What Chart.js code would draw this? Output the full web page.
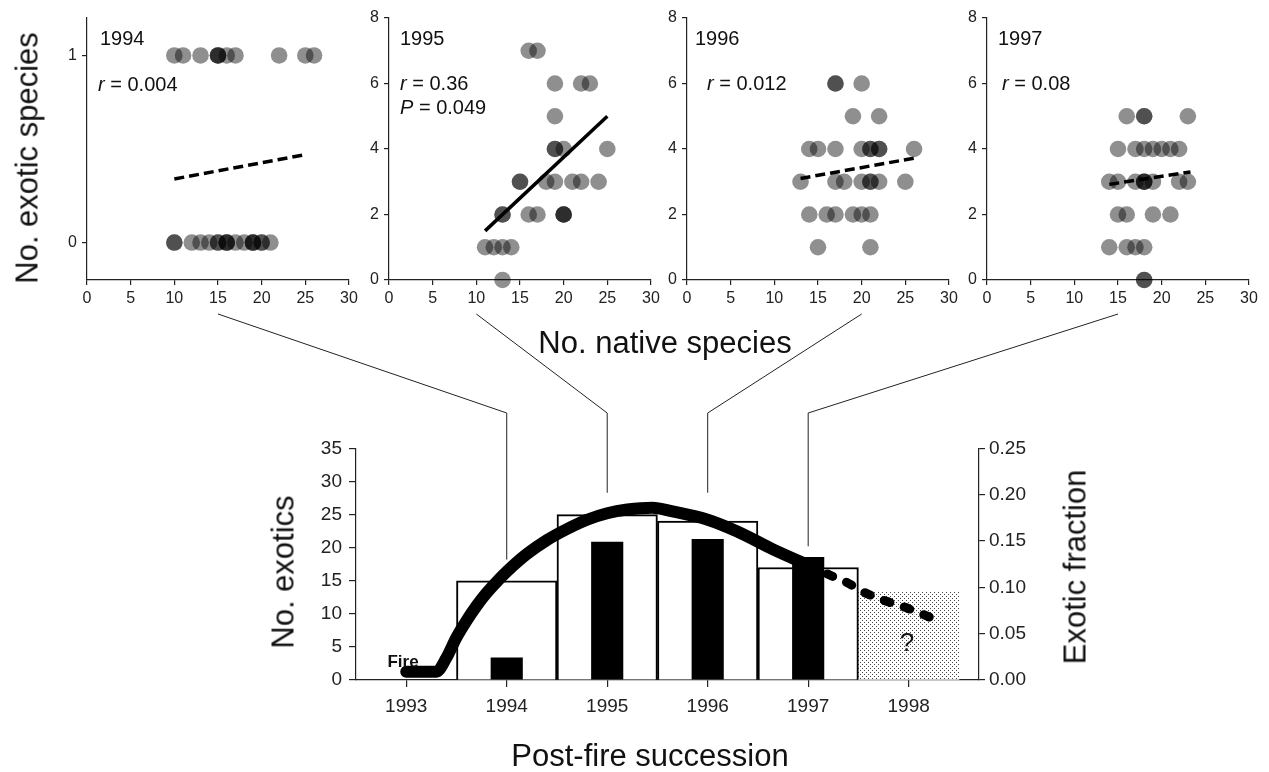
<!DOCTYPE html>
<html>
<head>
<meta charset="utf-8">
<script src="https://cdn.jsdelivr.net/npm/chart.js@4.4.1/dist/chart.umd.min.js"></script>
<style>
body { margin: 0; background: #fff; width: 1269px; height: 772px; position: relative; overflow: hidden; font-family: "Liberation Sans", Arial, sans-serif; }
canvas { position: absolute; }
.t { position: absolute; white-space: nowrap; color: #111; line-height: 1; }
.title { font-size: 31px; }
.note { font-size: 20px; }
.rot { transform: translate(-50%, -50%) rotate(-90deg); }
.ctr { transform: translate(-50%, -50%); }
</style>
</head>
<body>
<canvas id="p1994" width="321" height="310" style="left:42px;top:0px"></canvas>
<canvas id="p1995" width="321" height="310" style="left:344px;top:0px"></canvas>
<canvas id="p1996" width="321" height="310" style="left:642px;top:0px"></canvas>
<canvas id="p1997" width="321" height="310" style="left:942px;top:0px"></canvas>
<canvas id="succession" width="740" height="300" style="left:300px;top:430px"></canvas>
<canvas id="links" width="1269" height="772" style="left:0;top:0;pointer-events:none"></canvas>

<div class="t note" style="left:100px;top:28px">1994</div>
<div class="t note" style="left:98px;top:74px"><i>r</i> = 0.004</div>
<div class="t note" style="left:400px;top:28px">1995</div>
<div class="t note" style="left:400px;top:73px"><i>r</i> = 0.36</div>
<div class="t note" style="left:400px;top:97px"><i>P</i> = 0.049</div>
<div class="t note" style="left:695px;top:28px">1996</div>
<div class="t note" style="left:707px;top:73px"><i>r</i> = 0.012</div>
<div class="t note" style="left:998px;top:28px">1997</div>
<div class="t note" style="left:1002px;top:73px"><i>r</i> = 0.08</div>

<div class="t title rot" style="left:27px;top:158px">No. exotic species</div>
<div class="t title ctr" style="left:665px;top:342px">No. native species</div>
<div class="t title rot" style="left:283px;top:572px">No. exotics</div>
<div class="t title rot" style="left:1075px;top:567px">Exotic fraction</div>
<div class="t title ctr" style="left:650px;top:755px">Post-fire succession</div>
<div class="t ctr" style="left:403px;top:661px;font-size:17px;font-weight:bold">Fire</div>
<div class="t ctr" style="left:907px;top:642px;font-size:26px">?</div>

<script>
// scatter panels: native (x) vs exotic (y) species per plot
var nativeTicks = [0, 5, 10, 15, 20, 25, 30];

var native1994 = [10, 11, 13, 15, 15, 15, 16, 17, 22, 25, 26,
                  10, 10, 12, 13, 14, 15, 15, 16, 16, 16, 17, 18, 19, 19, 19, 20, 20, 21];
var exotic1994 = [1, 1, 1, 1, 1, 1, 1, 1, 1, 1, 1,
                  0, 0, 0, 0, 0, 0, 0, 0, 0, 0, 0, 0, 0, 0, 0, 0, 0, 0];
var fitX1994 = [10, 25];
var fitY1994 = [0.34, 0.47];

var native1995 = [16, 17, 19, 22, 23, 19, 19, 19, 20, 25,
                  15, 15, 18, 19, 21, 22, 24, 13, 13, 16, 17, 20, 20, 20,
                  11, 12, 13, 14, 13];
var exotic1995 = [7, 7, 6, 6, 6, 5, 4, 4, 4, 4,
                  3, 3, 3, 3, 3, 3, 3, 2, 2, 2, 2, 2, 2, 2,
                  1, 1, 1, 1, 0];
var fitX1995 = [11, 25];
var fitY1995 = [1.5, 5.0];

var native1996 = [17, 17, 20, 19, 22,
                  14, 15, 17, 20, 21, 21, 22, 22, 26,
                  13, 17, 18, 20, 21, 21, 22, 25,
                  14, 16, 17, 19, 20, 21, 15, 21];
var exotic1996 = [6, 6, 6, 5, 5,
                  4, 4, 4, 4, 4, 4, 4, 4, 4,
                  3, 3, 3, 3, 3, 3, 3, 3,
                  2, 2, 2, 2, 2, 2, 1, 1];
var fitX1996 = [13, 26];
var fitY1996 = [3.1, 3.72];

var native1997 = [16, 18, 18, 23,
                  15, 17, 18, 19, 20, 21, 22,
                  14, 15, 17, 18, 18, 18, 19, 22, 23,
                  15, 16, 19, 21,
                  14, 16, 17, 18, 18, 18];
var exotic1997 = [5, 5, 5, 5,
                  4, 4, 4, 4, 4, 4, 4,
                  3, 3, 3, 3, 3, 3, 3, 3, 3,
                  2, 2, 2, 2,
                  1, 1, 1, 1, 0, 0];
var fitX1997 = [14, 23.3];
var fitY1997 = [2.92, 3.3];

// succession chart
var yearTicks = [1993, 1994, 1995, 1996, 1997, 1998];
var barYears = [1994, 1995, 1996, 1997];
var totalExotics = [15, 25, 24, 17];
var plotExotics = [3.4, 20.9, 21.3, 18.6];
var projectedYears = [1998];
var projectedExotics = [13.3];
var exoticTicks = [0, 5, 10, 15, 20, 25, 30, 35];
var fractionTicks = [0, 0.05, 0.10, 0.15, 0.20, 0.25];

var trendYears = [1993.0, 1993.3, 1993.4, 1993.5, 1993.6, 1993.7, 1993.8, 1993.9, 1994.0, 1994.2, 1994.4, 1994.6, 1994.8, 1995.0, 1995.2, 1995.45, 1995.65, 1996.0, 1996.3, 1996.65, 1997.0];
var trendFraction = [0.009, 0.009, 0.024, 0.046, 0.064, 0.080, 0.094, 0.106, 0.117, 0.136, 0.151, 0.163, 0.173, 0.180, 0.184, 0.186, 0.182, 0.173, 0.160, 0.141, 0.124];
var guessYears = [1997.0, 1997.24, 1997.39, 1997.55, 1997.78, 1998.0, 1998.25];
var guessFraction = [0.124, 0.112, 0.105, 0.095, 0.085, 0.077, 0.066];

Chart.defaults.font.family = '"Liberation Sans", Arial, sans-serif';
Chart.defaults.color = '#222';
Chart.defaults.animation = false;
Chart.defaults.plugins.legend.display = false;
Chart.defaults.plugins.tooltip.enabled = false;

function pairs(xs, ys) {
	return xs.map(function(x, i) { return { x: x, y: ys[i] }; });
}

function fixedTicks(vals) {
	return function(scale) {
		scale.ticks = vals.map(function(v) { return { value: v }; });
	};
}

function axisStyle(extra, tickLen) {
	var s = {
		offset: false,
		grid: { offset: false, drawOnChartArea: false, drawTicks: true, tickLength: tickLen || 5, color: '#222', lineWidth: 1.2 },
		border: { display: true, color: '#222', width: 1.2 }
	};
	for (var k in extra) s[k] = extra[k];
	return s;
}

function makePanel(id, xs, ys, fitX, fitY, solid, yMin, yMax, yVals) {
	return new Chart(document.getElementById(id), {
		type: 'scatter',
		data: {
			datasets: [
				{
					data: pairs(xs, ys),
					pointRadius: 8.3,
					pointBackgroundColor: 'rgba(0,0,0,0.44)',
					pointBorderWidth: 0,
					clip: false,
					order: 2
				},
				{
					type: 'line',
					data: pairs(fitX, fitY),
					borderColor: '#000',
					borderWidth: 3.5,
					borderDash: solid ? [] : [10, 5],
					pointRadius: 0,
					clip: false,
					order: 1
				}
			]
		},
		options: {
			responsive: false,
			layout: { padding: { left: 5, right: 14, top: 18, bottom: 2 } },
			scales: {
				x: axisStyle({
					type: 'linear', min: 0, max: 30,
					afterBuildTicks: fixedTicks(nativeTicks),
					afterFit: function(s) { s.height = 28; },
					ticks: { font: { size: 16 }, padding: 4 }
				}),
				y: axisStyle({
					type: 'linear', min: yMin, max: yMax,
					afterBuildTicks: fixedTicks(yVals),
					afterFit: function(s) { s.width = 40; },
					ticks: { font: { size: 16 }, padding: 5 }
				})
			}
		}
	});
}

var panels = [
	makePanel('p1994', native1994, exotic1994, fitX1994, fitY1994, false, -0.2, 1.2, [0, 1]),
	makePanel('p1995', native1995, exotic1995, fitX1995, fitY1995, true, 0, 8, [0, 2, 4, 6, 8]),
	makePanel('p1996', native1996, exotic1996, fitX1996, fitY1996, false, 0, 8, [0, 2, 4, 6, 8]),
	makePanel('p1997', native1997, exotic1997, fitX1997, fitY1997, false, 0, 8, [0, 2, 4, 6, 8])
];

// stipple for the projected year
var tile = document.createElement('canvas');
tile.width = 4; tile.height = 4;
var tg = tile.getContext('2d');
tg.fillStyle = '#fff'; tg.fillRect(0, 0, 4, 4);
tg.fillStyle = '#444'; tg.fillRect(0, 0, 1, 1); tg.fillRect(2, 2, 1, 1);
var succCanvas = document.getElementById('succession');
var stipple = succCanvas.getContext('2d').createPattern(tile, 'repeat');

var succ = new Chart(succCanvas, {
	type: 'bar',
	data: {
		datasets: [
			{
				type: 'line',
				data: pairs(trendYears, trendFraction),
				yAxisID: 'y1',
				borderColor: '#000',
				borderWidth: 12,
				borderCapStyle: 'round',
				borderJoinStyle: 'round',
				cubicInterpolationMode: 'monotone',
				pointRadius: 0,
				clip: false,
				order: 1
			},
			{
				type: 'line',
				data: pairs(guessYears, guessFraction),
				yAxisID: 'y1',
				borderColor: '#000',
				borderWidth: 9,
				borderDash: [6, 15],
				borderCapStyle: 'round',
				cubicInterpolationMode: 'monotone',
				pointRadius: 0,
				clip: false,
				order: 2
			},
			{
				data: pairs(barYears, plotExotics),
				backgroundColor: '#000',
				borderWidth: 0,
				grouped: false,
				categoryPercentage: 1,
				barPercentage: 0.32,
				order: 3
			},
			{
				data: pairs(barYears, totalExotics),
				backgroundColor: '#fff',
				borderColor: '#000',
				borderWidth: 2,
				grouped: false,
				categoryPercentage: 1,
				barPercentage: 1,
				order: 4
			},
			{
				data: pairs(projectedYears, projectedExotics),
				backgroundColor: stipple,
				borderWidth: 0,
				grouped: false,
				categoryPercentage: 1,
				barPercentage: 1,
				order: 5
			}
		]
	},
	options: {
		responsive: false,
		layout: { padding: { left: 16, right: 5, top: 14, bottom: 5 } },
		scales: {
			x: axisStyle({
				type: 'linear', min: 1992.5, max: 1998.7,
				afterBuildTicks: fixedTicks(yearTicks),
				afterFit: function(s) { s.height = 45; },
				ticks: { font: { size: 19 }, padding: 8, callback: function(v) { return String(v); } }
			}, 7),
			y: axisStyle({
				type: 'linear', position: 'left', min: 0, max: 35,
				afterBuildTicks: fixedTicks(exoticTicks),
				afterFit: function(s) { s.width = 40; },
				ticks: { font: { size: 19 }, padding: 7 }
			}, 7),
			y1: axisStyle({
				type: 'linear', position: 'right', min: 0, max: 0.25,
				afterBuildTicks: fixedTicks(fractionTicks),
				afterFit: function(s) { s.width = 56; },
				ticks: { font: { size: 19 }, padding: 4, callback: function(v) { return v.toFixed(2); } }
			}, 6)
		}
	}
});

// connector lines from each panel's axis down to its year
var links = document.getElementById('links').getContext('2d');
var linkFrom = [15, 10, 20, 15];
var linkDrop = [18.2, 28.3, 28.3, 20.2];
links.strokeStyle = '#222';
links.lineWidth = 1;
panels.forEach(function(p, i) {
	var left = parseFloat(p.canvas.style.left);
	var x0 = left + p.scales.x.getPixelForValue(linkFrom[i]);
	var x1 = 300 + succ.scales.x.getPixelForValue(barYears[i]);
	var y1 = 430 + succ.scales.y.getPixelForValue(linkDrop[i]);
	links.beginPath();
	links.moveTo(x0, 314);
	links.lineTo(x1, 413);
	links.lineTo(x1, y1);
	links.stroke();
});
</script>
</body>
</html>
